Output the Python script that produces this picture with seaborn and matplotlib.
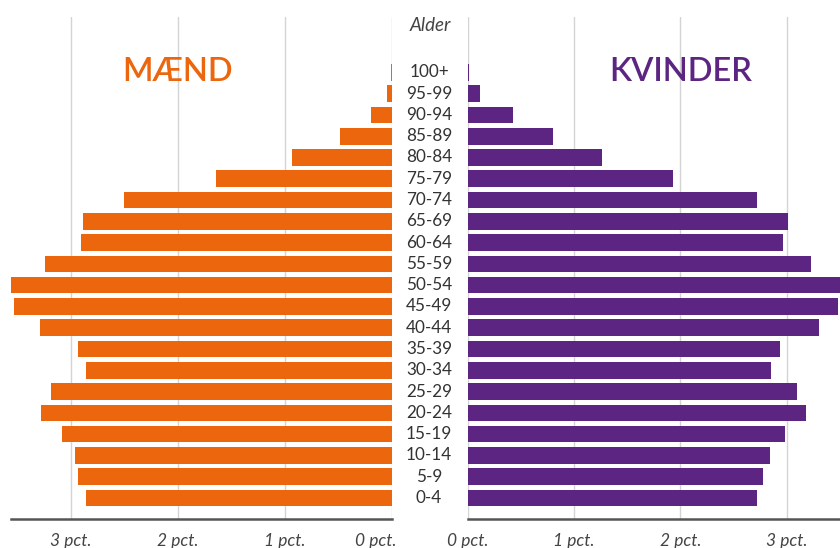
import pandas as pd
import matplotlib.pyplot as plt
import matplotlib.transforms as mtransforms
import seaborn as sns

# Age groups, top to bottom
ages = ["100+", "95-99", "90-94", "85-89", "80-84", "75-79", "70-74", "65-69",
        "60-64", "55-59", "50-54", "45-49", "40-44", "35-39", "30-34", "25-29",
        "20-24", "15-19", "10-14", "5-9", "0-4"]

# Share of population (pct.)
maend = [0.01, 0.04, 0.19, 0.48, 0.93, 1.64, 2.50, 2.89, 2.91, 3.24, 3.56,
         3.53, 3.29, 2.93, 2.86, 3.19, 3.28, 3.08, 2.96, 2.93, 2.86]
kvinder = [0.015, 0.12, 0.43, 0.80, 1.26, 1.93, 2.72, 3.01, 2.96, 3.23, 3.52,
           3.48, 3.30, 2.94, 2.85, 3.10, 3.18, 2.98, 2.84, 2.78, 2.72]

xticks = [0, 1, 2, 3]
xticklabels = ["0 pct.", "1 pct.", "2 pct.", "3 pct."]

orange = "#EB660C"
purple = "#5C2582"

df = pd.DataFrame({"alder": ages, "maend": maend, "kvinder": kvinder})

sns.set_style("white")
plt.rcParams['font.family'] = ['Lato', 'DejaVu Sans']

fig = plt.figure(figsize=(8.4, 5.48), dpi=100)
ax_m = fig.add_axes([11 / 840, 29.3 / 548, 380.7 / 840, 501.7 / 548])
ax_k = fig.add_axes([467.7 / 840, 29.3 / 548, 372.3 / 840, 501.7 / 548])

sns.barplot(data=df, x="maend", y="alder", order=ages, color=orange,
            width=0.78, linewidth=0, saturation=1, ax=ax_m)
sns.barplot(data=df, x="kvinder", y="alder", order=ages, color=purple,
            width=0.78, linewidth=0, saturation=1, ax=ax_k)

ax_m.set_xlim(3.56, 0)
ax_k.set_xlim(0, 3.5)

for ax in (ax_m, ax_k):
    ax.set_ylim(len(ages) - 1 + 0.97, -2.6)
    ax.set_xticks(xticks)
    ax.set_xticklabels(xticklabels, fontstyle="italic", fontsize=12.5, color="#444444")
    ax.set_yticks([])
    ax.set_xlabel("")
    ax.set_ylabel("")
    ax.grid(axis="x", color="#d4d4d4", linewidth=1)
    ax.set_axisbelow(True)
    for s in ("top", "left", "right"):
        ax.spines[s].set_visible(False)
    ax.spines["bottom"].set_color("#555555")
    ax.spines["bottom"].set_linewidth(1.8)
    ax.tick_params(axis="x", length=4, width=1, color="#cccccc", pad=6.5)

# nudge the left "0 pct." label inward
lbl = ax_m.get_xticklabels()[0]
lbl.set_transform(lbl.get_transform() + mtransforms.ScaledTranslation(-0.16, 0, fig.dpi_scale_trans))

# age labels between the two panels
trans = mtransforms.blended_transform_factory(fig.transFigure, ax_m.transData)
for i, a in enumerate(ages):
    ax_m.text(429 / 840, i, a, transform=trans, ha="center", va="center",
              fontsize=12.3, color="#333333", clip_on=False)
ax_m.text(430 / 840, -2.2, "Alder", transform=trans, ha="center", va="center",
          fontsize=13.5, fontstyle="italic", color="#444444", clip_on=False)

ax_m.text(2, 0, "MÆND", ha="center", va="center", fontsize=23.5,
          fontweight="semibold", color=orange)
ax_k.text(2, 0, "KVINDER", ha="center", va="center", fontsize=23.5,
          fontweight="semibold", color=purple)

plt.savefig("out.png", dpi=100)
